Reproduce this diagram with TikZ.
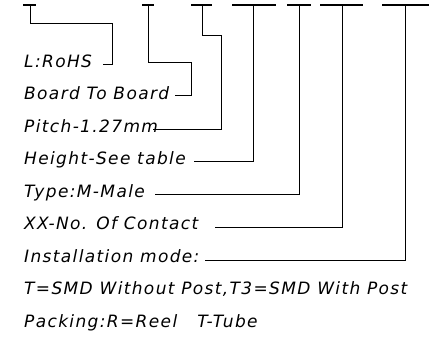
\documentclass[tikz,border=0pt]{standalone}
\usepackage{fontspec}
\newfontfamily\isofont{DejaVu Sans}[LetterSpace=8]
\begin{document}
\begin{tikzpicture}[x=1pt,y=-1pt,
  lbl/.style={anchor=base west,inner sep=0pt,font=\isofont\itshape\fontsize{17}{18}\selectfont},
  lead/.style={line width=1pt,line cap=butt,line join=miter},
  tbar/.style={line width=1.1pt}]
\useasboundingbox (0,0) rectangle (444,338);
% text nodes
\node[lbl] (t1) at (24,67) {L:RoHS};
\node[lbl] (t2) at (24,99.5) {Board To Board};
\node[lbl] (t3) at (24,132) {Pitch-1.27mm};
\node[lbl] (t4) at (24,164.5) {Height-See table};
\node[lbl] (t5) at (24,197) {Type:M-Male};
\node[lbl] (t6) at (24,229.5) {XX-No. Of Contact};
\node[lbl] (t7) at (24,262) {Installation mode:};
\node[lbl] (t8) at (24,294.5) {T=SMD Without Post,T3=SMD With Post};
\node[lbl] (t9) at (24,327) {Packing:R=Reel\hspace{20pt}T-Tube};
% top coordinates of leaders
\coordinate (c1) at (30,5);
\coordinate (c2) at (148,5);
\coordinate (c3) at (202,5);
\coordinate (c4) at (253,5);
\coordinate (c5) at (299,5);
\coordinate (c6) at (342,5);
\coordinate (c7) at (405,5);
% leader ends near texts
\coordinate (e1) at (103,64);
\coordinate (e2) at (175,95);
\coordinate (e3) at (153,129);
\coordinate (e4) at (194,161);
\coordinate (e5) at (155,194);
\coordinate (e6) at (215,227);
\coordinate (e7) at (205,260);
% T bars
\draw[tbar] (23,5) -- (36,5);
\draw[tbar] (142,5) -- (154,5);
\draw[tbar] (191,5) -- (212,5);
\draw[tbar,line width=1.5pt] (232,5) -- (276,5);
\draw[tbar] (287,5) -- (311,5);
\draw[tbar] (320,5) -- (363,5);
\draw[tbar] (382,5) -- (429,5);
% leaders
\draw[lead] (c1) -- (30,23) -- (112,23) -- (112,64) -- (e1);
\draw[lead] (c2) -- (148,62) -- (191,62) -- (191,95) -- (e2);
\draw[lead] (c3) -- (202,35) -- (221,35) -- (221,129) -- (e3);
\draw[lead] (c4) |- (e4);
\draw[lead] (c5) |- (e5);
\draw[lead] (c6) |- (e6);
\draw[lead] (c7) |- (e7);
\end{tikzpicture}
\end{document}
